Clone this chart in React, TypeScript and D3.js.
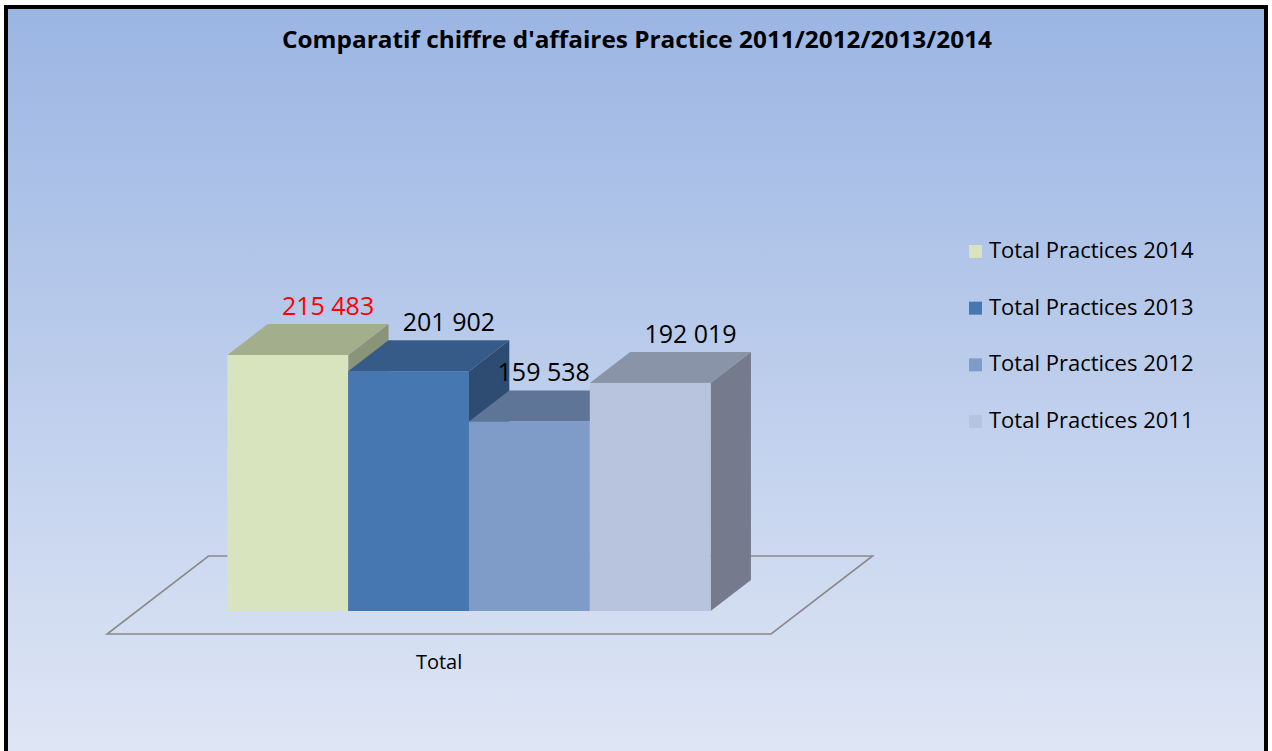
import { useEffect, useRef } from "react";
import * as d3 from "d3";

// chart data
const categories = ["Total"];
const seriesNames = [
  "Total Practices 2014",
  "Total Practices 2013",
  "Total Practices 2012",
  "Total Practices 2011",
];
const seriesValues = [215483, 201902, 159538, 192019];
const titleText = "Comparatif chiffre d'affaires Practice 2011/2012/2013/2014";

// colours: front face, top face, side face
const frontColors = ["#d7e4bd", "#4677b1", "#7f9cc9", "#b8c4de"];
const topColors = ["#a3ae8c", "#375b88", "#5f7597", "#8a94a8"];
const sideColors = ["#8a9478", "#2e4c72", "#4f6282", "#757b8d"];
const labelColors = ["#ff0000", "#000000", "#000000", "#000000"];

const W = 1272;
const H = 751;

const frFormat = d3.formatLocale({
  decimal: ",",
  thousands: " ",
  grouping: [3],
  currency: ["", " €"],
}).format(",d");

const App = () => {
  const svgRef = useRef<SVGSVGElement | null>(null);

  useEffect(() => {
    const svg = d3.select(svgRef.current);
    svg.selectAll("*").remove();

    // background gradient
    const defs = svg.append("defs");
    const grad = defs
      .append("linearGradient")
      .attr("id", "bg")
      .attr("x1", 0)
      .attr("y1", 0)
      .attr("x2", 0)
      .attr("y2", 1);
    grad.append("stop").attr("offset", "0%").attr("stop-color", "#9bb5e3");
    grad.append("stop").attr("offset", "100%").attr("stop-color", "#e0e7f5");

    svg.append("rect").attr("width", W).attr("height", H).attr("fill", "#fff");
    svg
      .append("rect")
      .attr("x", 6)
      .attr("y", 7)
      .attr("width", 1260)
      .attr("height", H + 10)
      .attr("fill", "url(#bg)")
      .attr("stroke", "#000")
      .attr("stroke-width", 4);

    // title
    svg
      .append("text")
      .attr("x", 637)
      .attr("y", 48)
      .attr("text-anchor", "middle")
      .attr("textLength", 710)
      .attr("lengthAdjust", "spacingAndGlyphs")
      .style("font-family", "'Open Sans', sans-serif")
      .style("font-weight", 700)
      .style("font-size", "24px")
      .attr("fill", "#000")
      .text(titleText);

    // 3d projection: depth t shifts x by +1.3t and y by -t
    const kx = 1.3;
    const barDepth = 31;
    const floorFront = -23;
    const floorBack = 55;

    const xCat = d3
      .scaleBand()
      .domain(categories)
      .range([137, 801])
      .paddingInner(0)
      .paddingOuter(0.187);

    const xSeries = d3
      .scaleBand()
      .domain(seriesNames)
      .range([0, xCat.bandwidth()])
      .padding(0);

    const y = d3.scaleLinear().domain([0, 250000]).range([611, 314]);
    const y0 = y(0);

    // floor
    const [fl, fr] = xCat.range();
    const floorPts: [number, number][] = [
      [fl + kx * floorFront, y0 - floorFront],
      [fr + kx * floorFront, y0 - floorFront],
      [fr + kx * floorBack, y0 - floorBack],
      [fl + kx * floorBack, y0 - floorBack],
    ];
    svg
      .append("polygon")
      .attr("points", floorPts.map((p) => p.join(",")).join(" "))
      .attr("fill", "none")
      .attr("stroke", "#8a8a8a")
      .attr("stroke-width", 1.6);

    // bars
    const dx = kx * barDepth;
    const dy = -barDepth;
    const g = svg.append("g");
    const bars = categories.flatMap((cat) =>
      seriesNames.map((s, i) => ({
        cat,
        s,
        i,
        v: seriesValues[i],
        x0: (xCat(cat) as number) + (xSeries(s) as number),
        x1: (xCat(cat) as number) + (xSeries(s) as number) + xSeries.bandwidth(),
      }))
    );

    const poly = (pts: [number, number][]) => pts.map((p) => p.join(",")).join(" ");
    bars.forEach((b) => {
      const yt = y(b.v);
      g.append("polygon")
        .attr(
          "points",
          poly([
            [b.x1, yt],
            [b.x1 + dx, yt + dy],
            [b.x1 + dx, y0 + dy],
            [b.x1, y0],
          ])
        )
        .attr("fill", sideColors[b.i]);
      g.append("polygon")
        .attr(
          "points",
          poly([
            [b.x0, yt],
            [b.x1, yt],
            [b.x1 + dx, yt + dy],
            [b.x0 + dx, yt + dy],
          ])
        )
        .attr("fill", topColors[b.i]);
      g.append("rect")
        .attr("x", b.x0)
        .attr("y", yt)
        .attr("width", b.x1 - b.x0)
        .attr("height", y0 - yt)
        .attr("fill", frontColors[b.i]);
    });

    // data labels
    bars.forEach((b, k) => {
      const yt = y(b.v);
      let lx = (b.x0 + b.x1) / 2 + dx;
      const ly = yt + dy - 9;
      let anchor = "middle";
      const next = bars[k + 1];
      if (next && y(next.v) + dy < ly) {
        // next bar is taller: keep label clear of it
        const halfW = 46;
        if (lx + halfW > next.x0) {
          lx = next.x0;
          anchor = "end";
        }
      }
      svg
        .append("text")
        .attr("x", lx)
        .attr("y", ly)
        .attr("text-anchor", anchor)
        .style("font-family", "'Open Sans', sans-serif")
        .style("font-size", "25px")
        .attr("fill", labelColors[b.i])
        .text(frFormat(b.v));
    });

    // category label
    categories.forEach((cat) => {
      svg
        .append("text")
        .attr("x", (xCat(cat) as number) + xCat.bandwidth() / 2 + kx * floorFront)
        .attr("y", 669)
        .attr("text-anchor", "middle")
        .style("font-family", "'Open Sans', sans-serif")
        .style("font-size", "20px")
        .attr("fill", "#000")
        .text(cat);
    });

    // legend
    const legendY = d3.scalePoint().domain(seriesNames).range([258, 428]);
    const lg = svg.append("g");
    seriesNames.forEach((s, i) => {
      const yy = legendY(s) as number;
      lg.append("rect")
        .attr("x", 969)
        .attr("y", yy - 13)
        .attr("width", 13)
        .attr("height", 13)
        .attr("fill", frontColors[i]);
      lg.append("text")
        .attr("x", 989)
        .attr("y", yy)
        .style("font-family", "'Open Sans', sans-serif")
        .style("font-size", "22px")
        .attr("fill", "#000")
        .text(s);
    });
  }, []);

  return (
    <div style={{ position: "absolute", left: 0, top: 0 }}>
      <svg ref={svgRef} width={W} height={H} style={{ display: "block" }}></svg>
    </div>
  );
};

export default App;
